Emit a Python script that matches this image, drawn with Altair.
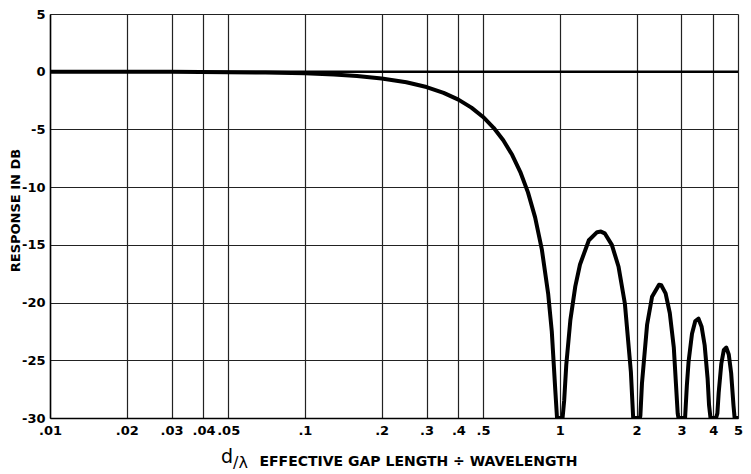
import altair as alt
import pandas as pd

# Values (d/lambda vs. response in dB; dips clipped at -30)
ratio = [0.01, 0.02, 0.03, 0.05, 0.07, 0.1, 0.13, 0.16, 0.2, 0.25, 0.3, 0.35, 0.4,
         0.45, 0.5, 0.55, 0.6, 0.65, 0.7, 0.75, 0.8, 0.85, 0.9, 0.93, 0.96, 0.975,
         1.0, 1.025, 1.04, 1.06, 1.1, 1.15, 1.2, 1.3, 1.4, 1.45, 1.5, 1.6, 1.7,
         1.8, 1.9, 1.94, 2.0, 2.06, 2.07, 2.1, 2.2, 2.3, 2.45, 2.5, 2.6, 2.7, 2.8,
         2.9, 2.92, 3.0, 3.08, 3.1, 3.15, 3.2, 3.3, 3.4, 3.5, 3.6, 3.7, 3.8, 3.85,
         3.9, 4.0, 4.1, 4.15, 4.2, 4.3, 4.4, 4.5, 4.6, 4.7, 4.8, 4.85, 5.0]
response_db = [0.0, 0.0, -0.01, -0.04, -0.07, -0.14, -0.24, -0.37, -0.58, -0.91,
               -1.33, -1.83, -2.42, -3.11, -3.92, -4.86, -5.94, -7.2, -8.69, -10.45,
               -12.62, -15.39, -19.23, -22.5, -27.6, -30.0,
               -30.0, -30.0, -28.5, -25.4, -21.5, -18.6, -16.7, -14.6, -13.9, -13.85,
               -14.0, -15.0, -16.9, -20.1, -26.0, -30.0, -30.0, -30.0, -29.8, -27.0,
               -21.9, -19.5, -18.45, -18.5, -19.2, -20.9, -23.9, -29.6, -30.0, -30.0,
               -30.0, -30.0, -27.2, -25.1, -22.7, -21.6, -21.4, -22.1, -23.7, -26.6,
               -28.9, -30.0, -30.0, -30.0, -29.6, -27.8, -25.3, -24.1, -23.9, -24.5,
               -26.1, -28.9, -30.0, -30.0]

x_ticks = [0.01, 0.02, 0.03, 0.04, 0.05, 0.1, 0.2, 0.3, 0.4, 0.5, 1, 2, 3, 4, 5]
y_ticks = [-30, -25, -20, -15, -10, -5, 0, 5]

x_title = "EFFECTIVE GAP LENGTH \u00f7 WAVELENGTH"
x_symbol_d = "d"
x_symbol_lambda = "/\u03bb"
y_title = "RESPONSE IN DB"

df = pd.DataFrame({"ratio": ratio, "db": response_db})

FONT = "DejaVu Sans"
W, H = 688, 404

xscale = alt.Scale(type="log", domain=[0.01, 5], nice=False)
yscale = alt.Scale(domain=[-30, 5], nice=False, zero=False)

line = alt.Chart(df).mark_line(color="black", strokeWidth=4, clip=True,
                               strokeJoin="round", strokeCap="round").encode(
    x=alt.X("ratio:Q", scale=xscale,
            axis=alt.Axis(values=x_ticks, grid=True, gridColor="#222",
                          gridWidth=1.2, gridOpacity=1, ticks=False,
                          domainColor="black", domainWidth=1.5,
                          labelExpr="datum.value < 1 ? substring(format(datum.value, '~g'), 1) : format(datum.value, '~g')",
                          labelOverlap=False, labelFont=FONT, labelFontWeight="bold",
                          labelFontSize=13, labelColor="black", labelPadding=6,
                          labelFlush=False,
                          title=x_title, titleFont=FONT, titleFontWeight="bold",
                          titleFontSize=14, titleColor="black",
                          titleX=368, titleY=47, titleAnchor=None,
                          titleAlign="center", titleBaseline="alphabetic")),
    y=alt.Y("db:Q", scale=yscale,
            axis=alt.Axis(values=y_ticks, grid=True, gridColor="#222",
                          gridWidth=1.2, gridOpacity=1, ticks=False,
                          domainColor="black", domainWidth=1.5,
                          labelExpr="datum.value < 0 ? '-' + abs(datum.value) : '' + datum.value",
                          labelFont=FONT, labelFontWeight="bold",
                          labelFontSize=13, labelColor="black", labelPadding=5,
                          title=y_title, titleFont=FONT, titleFontWeight="bold",
                          titleFontSize=13, titleColor="black",
                          titleX=-35, titleY=196, titleAngle=-90,
                          titleAlign="center", titleBaseline="middle")),
)

zero_line = alt.Chart(pd.DataFrame({"db": [0]})).mark_rule(
    color="black", strokeWidth=2.5).encode(y=alt.Y("db:Q", scale=yscale))

sym_d = alt.Chart(pd.DataFrame({"t": [x_symbol_d]})).mark_text(
    font=FONT, fontSize=19, color="black",
    align="left", baseline="alphabetic").encode(
    text="t:N", x=alt.value(171), y=alt.value(449))

sym_l = alt.Chart(pd.DataFrame({"t": [x_symbol_lambda]})).mark_text(
    font=FONT, fontSize=16, color="black",
    align="left", baseline="alphabetic").encode(
    text="t:N", x=alt.value(183), y=alt.value(454))

chart = alt.layer(zero_line, line, sym_d, sym_l).properties(
    width=W, height=H,
    autosize=alt.AutoSizeParams(type="none"),
    padding={"left": 42, "top": 6, "right": 5, "bottom": 54},
).configure_view(stroke="black", strokeWidth=1.5).configure(background="white")

chart.save("out.html", embed_options={"renderer": "svg", "actions": False})
